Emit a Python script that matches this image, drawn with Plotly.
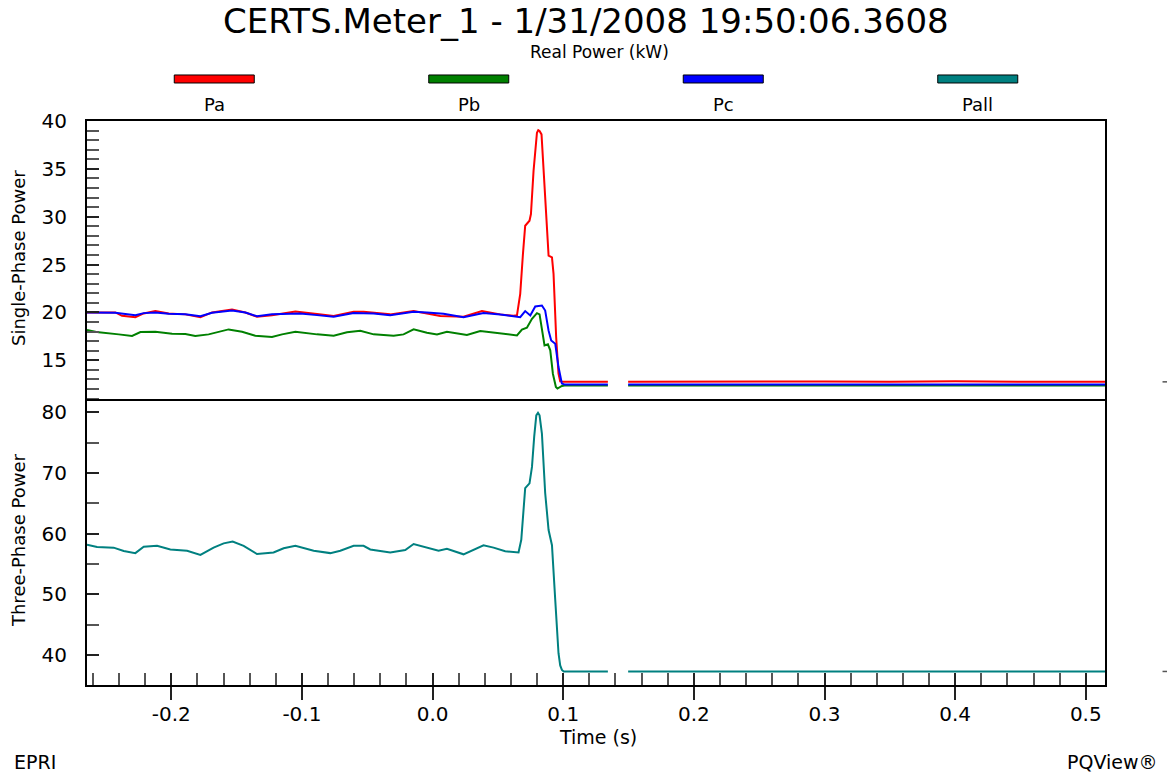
import plotly.graph_objects as go

TITLE = "CERTS.Meter_1 - 1/31/2008 19:50:06.3608"
SUBTITLE = "Real Power (kW)"
X_TITLE = "Time (s)"
Y1_TITLE = "Single-Phase Power"
Y2_TITLE = "Three-Phase Power"
FOOT_LEFT = "EPRI"
FOOT_RIGHT = "PQView®"

series_names = ["Pa", "Pb", "Pc", "Pall"]
series_colors = ["#FF0000", "#008000", "#0000FF", "#008080"]

# ---- Pa (single phase, red) ----
t_pa = [-0.2645, -0.2428, -0.2377, -0.2275, -0.2211, -0.2122, -0.2020, -0.1892, -0.1777,
        -0.1688, -0.1535, -0.1433, -0.1344, -0.1229, -0.1050, -0.1013, -0.0884, -0.0757,
        -0.0604, -0.0528, -0.0324, -0.0145, -0.0043, 0.0059, 0.0237, 0.0378, 0.0518,
        0.0620, 0.0646, 0.0671, 0.0692, 0.0709, 0.0742, 0.0753, 0.0773, 0.0799, 0.0809,
        0.0819, 0.0834, 0.0855, 0.0875, 0.0888, 0.0914, 0.0926, 0.0946, 0.0964, 0.0977,
        0.1000, 0.1342, None, 0.1497, 0.2000, 0.2500, 0.3000, 0.3500, 0.4000, 0.4500, 0.5147]
pa = [20.0, 20.0, 19.65, 19.5, 19.9, 20.15, 19.9, 19.8, 19.5,
      20.0, 20.3, 20.0, 19.55, 19.7, 20.1, 20.05, 19.85, 19.62,
      20.07, 20.07, 19.8, 20.15, 19.9, 19.62, 19.55, 20.15, 19.8,
      19.65, 19.7, 21.95, 26.15, 29.06, 29.58, 30.28, 34.79, 38.78, 39.05,
      38.96, 38.6, 33.75, 28.89, 25.94, 25.76, 24.03, 17.43, 13.6, 12.8,
      12.75, 12.75, None, 12.75, 12.78, 12.75, 12.8, 12.75, 12.82, 12.75, 12.75]

# ---- Pb (single phase, green) ----
t_pb = [-0.2645, -0.2555, -0.2402, -0.2300, -0.2236, -0.2122, -0.1994, -0.1892, -0.1816,
        -0.1714, -0.1561, -0.1458, -0.1357, -0.1229, -0.1152, -0.1050, -0.0884, -0.0757,
        -0.0655, -0.0553, -0.0451, -0.0298, -0.0222, -0.0145, -0.0043, 0.0034, 0.0110,
        0.0212, 0.0263, 0.0365, 0.0467, 0.0620, 0.0646, 0.0684, 0.0722, 0.0761, 0.0799,
        0.0819, 0.0837, 0.0857, 0.0883, 0.0901, 0.0921, 0.0944, 0.0956, 0.0990, 0.1010,
        0.1342, None, 0.1497, 0.5147]
pb = [18.16, 17.92, 17.71, 17.54, 17.95, 17.99, 17.78, 17.75, 17.54,
      17.71, 18.23, 17.99, 17.57, 17.43, 17.71, 17.99, 17.71, 17.57,
      17.92, 18.09, 17.71, 17.57, 17.71, 18.23, 17.89, 17.71, 17.99,
      17.71, 17.64, 18.06, 17.92, 17.71, 17.6, 18.2, 18.4, 19.34, 19.93,
      19.8, 18.47, 16.56, 16.67, 16.04, 13.6, 12.22, 12.05, 12.32, 12.38,
      12.38, None, 12.38, 12.38]

# ---- Pc (single phase, blue) ----
t_pc = [-0.2645, -0.2428, -0.2275, -0.2211, -0.2122, -0.2020, -0.1892, -0.1777, -0.1688,
        -0.1535, -0.1433, -0.1344, -0.1229, -0.1050, -0.1013, -0.0884, -0.0757, -0.0604,
        -0.0451, -0.0324, -0.0145, -0.0043, 0.0084, 0.0237, 0.0390, 0.0518, 0.0620,
        0.0671, 0.0709, 0.0748, 0.0786, 0.0837, 0.0862, 0.0888, 0.0908, 0.0939, 0.0964,
        0.0990, 0.1010, 0.1342, None, 0.1497, 0.5147]
pc = [20.0, 19.98, 19.72, 19.93, 20.0, 19.86, 19.8, 19.6, 19.97,
      20.2, 20.0, 19.6, 19.82, 19.93, 19.9, 19.72, 19.55, 19.93,
      19.9, 19.72, 20.07, 20.0, 19.86, 19.51, 19.93, 19.79, 19.65,
      19.51, 20.14, 19.69, 20.63, 20.73, 20.2, 18.1, 17.08, 16.74, 14.3,
      12.57, 12.47, 12.47, None, 12.47, 12.47]

# ---- Pall (three phase, teal) ----
t_pall = [-0.2645, -0.2568, -0.2441, -0.2364, -0.2275, -0.2211, -0.2109, -0.2007, -0.1879,
          -0.1777, -0.1676, -0.1599, -0.1530, -0.1446, -0.1344, -0.1217, -0.1140, -0.1050,
          -0.0910, -0.0783, -0.0706, -0.0604, -0.0528, -0.0477, -0.0324, -0.0209, -0.0145,
          -0.0069, 0.0046, 0.0110, 0.0237, 0.0390, 0.0467, 0.0556, 0.0658, 0.0679, 0.0694,
          0.0709, 0.0742, 0.0761, 0.0778, 0.0794, 0.0807, 0.0819, 0.0837, 0.0849, 0.0862,
          0.0888, 0.0904, 0.0914, 0.0939, 0.0964, 0.0977, 0.0990, 0.1004, 0.1342, None,
          0.1497, 0.5147]
pall = [58.2, 57.8, 57.7, 57.15, 56.8, 57.85, 58.0, 57.4, 57.2,
        56.5, 57.7, 58.4, 58.7, 58.0, 56.65, 56.9, 57.6, 58.0,
        57.2, 56.8, 57.2, 58.0, 58.0, 57.4, 56.9, 57.3, 58.3,
        57.9, 57.2, 57.5, 56.6, 58.1, 57.7, 57.1, 56.9, 59.0, 64.0,
        67.5, 68.3, 71.0, 76.0, 79.5, 79.9, 79.5, 76.5, 72.0, 66.7,
        60.6, 58.8, 58.1, 49.1, 40.3, 38.3, 37.55, 37.3, 37.3, None,
        37.3, 37.3]

x_range = [-0.2645, 0.5147]
y1_range = [10.75, 40.0]
y2_range = [35.07, 81.86]
x_tickvals = [-0.2, -0.1, 0.0, 0.1, 0.2, 0.3, 0.4, 0.5]
x_ticktext = ["-0.2", "-0.1", "0.0", "0.1", "0.2", "0.3", "0.4", "0.5"]
y1_tickvals = [15, 20, 25, 30, 35, 40]
y2_tickvals = [40, 50, 60, 70, 80]

FONT = "DejaVu Sans, Liberation Sans, Arial, sans-serif"

fig = go.Figure()
top_data = [(t_pa, pa), (t_pb, pb), (t_pc, pc)]
for i, (tt, vv) in enumerate(top_data):
    fig.add_trace(go.Scatter(x=tt, y=vv, mode="lines", name=series_names[i],
                             line=dict(color=series_colors[i], width=2),
                             xaxis="x", yaxis="y", connectgaps=False, showlegend=False))
fig.add_trace(go.Scatter(x=t_pall, y=pall, mode="lines", name=series_names[3],
                         line=dict(color=series_colors[3], width=2),
                         xaxis="x2", yaxis="y2", connectgaps=False, showlegend=False))
# helper trace for the overlay tick axis
fig.add_trace(go.Scatter(x=[None], y=[None], xaxis="x3", yaxis="y2",
                         showlegend=False, hoverinfo="skip"))

split = 284 / 564
line_style = dict(showline=True, linecolor="black", linewidth=2,
                  showgrid=False, zeroline=False)
tickfont = dict(family=FONT, size=20, color="black")

fig.update_layout(
    width=1167, height=776,
    paper_bgcolor="white", plot_bgcolor="white",
    margin=dict(l=87, r=62, t=121, b=91),
    font=dict(family=FONT, color="black"),
    xaxis=dict(domain=[0, 1], anchor="y", range=x_range, showticklabels=False,
               ticks="", side="top", mirror=False, **line_style),
    yaxis=dict(domain=[split, 1], anchor="x", range=y1_range,
               tickmode="array", tickvals=y1_tickvals,
               ticks="inside", ticklen=12, tickwidth=1.5, tickcolor="#222",
               minor=dict(tickmode="linear", tick0=0, dtick=1, ticks="inside",
                          ticklen=12, tickwidth=1.5, tickcolor="#555"),
               ticklabelstandoff=14, tickfont=tickfont, mirror=True, **line_style),
    xaxis2=dict(domain=[0, 1], anchor="y2", range=x_range,
                tickmode="array", tickvals=x_tickvals, ticktext=x_ticktext,
                ticks="outside", ticklen=13, tickwidth=1.5, tickcolor="#222",
                minor=dict(tickmode="linear", tick0=0, dtick=0.02, ticks="inside",
                           ticklen=12, tickwidth=1.5, tickcolor="#555"),
                ticklabelstandoff=-3, tickfont=tickfont, mirror=True, **line_style),
    xaxis3=dict(overlaying="x2", anchor="y2", range=x_range,
                tickmode="array", tickvals=x_tickvals, showticklabels=False,
                ticks="inside", ticklen=12, tickwidth=1.5, tickcolor="#222",
                showline=False, showgrid=False, zeroline=False, side="bottom"),
    yaxis2=dict(domain=[0, split], anchor="x2", range=y2_range,
                tickmode="array", tickvals=y2_tickvals,
                ticks="inside", ticklen=12, tickwidth=1.5, tickcolor="#222",
                minor=dict(tickmode="linear", tick0=0, dtick=5, ticks="inside",
                           ticklen=12, tickwidth=1.5, tickcolor="#555"),
                ticklabelstandoff=14, tickfont=tickfont, mirror=True, **line_style),
)

annotations = [
    dict(text=TITLE, x=0.4897, y=1.1773, font=dict(size=34)),
    dict(text=SUBTITLE, x=0.503, y=1.1223, font=dict(size=17)),
    dict(text=X_TITLE, x=0.502, y=-0.0925, font=dict(size=19)),
    dict(text=Y1_TITLE, x=-0.0678, y=0.757, textangle=-90, font=dict(size=18)),
    dict(text=Y2_TITLE, x=-0.0678, y=0.257, textangle=-90, font=dict(size=18)),
    dict(text=FOOT_LEFT, x=-0.0737, y=-0.1365, xanchor="left", font=dict(size=19)),
    dict(text=FOOT_RIGHT, x=1.054, y=-0.1365, xanchor="right", font=dict(size=19)),
]
shapes = []
half_w = 40 / 1018
for i, (name, color) in enumerate(zip(series_names, series_colors)):
    xc = 0.125 + 0.25 * i
    shapes.append(dict(type="rect", xref="paper", yref="paper",
                       x0=xc - half_w, x1=xc + half_w, y0=1.0674, y1=1.0816,
                       fillcolor=color, line=dict(color="black", width=1)))
    annotations.append(dict(text=name, x=xc, y=1.0284, font=dict(size=18)))

# small end-of-record marks outside the right frame
shapes.append(dict(type="line", xref="paper", yref="y", x0=1.0565, x1=1.062,
                   y0=pa[-1], y1=pa[-1], line=dict(color="#555", width=1.5)))
shapes.append(dict(type="line", xref="paper", yref="y2", x0=1.0565, x1=1.062,
                   y0=pall[-1], y1=pall[-1], line=dict(color="#555", width=1.5)))

for a in annotations:
    a.setdefault("xref", "paper")
    a.setdefault("yref", "paper")
    a.setdefault("showarrow", False)
    a.setdefault("xanchor", "center")
    a.setdefault("yanchor", "middle")
    a["font"] = dict(family=FONT, color="black", **a["font"])

fig.update_layout(annotations=annotations, shapes=shapes)
# remove the default 8px page margin so the figure fills the window exactly
fig.write_html("out.html", config={"displayModeBar": False},
               post_script="document.body.style.margin='0';document.body.style.overflow='hidden';")
